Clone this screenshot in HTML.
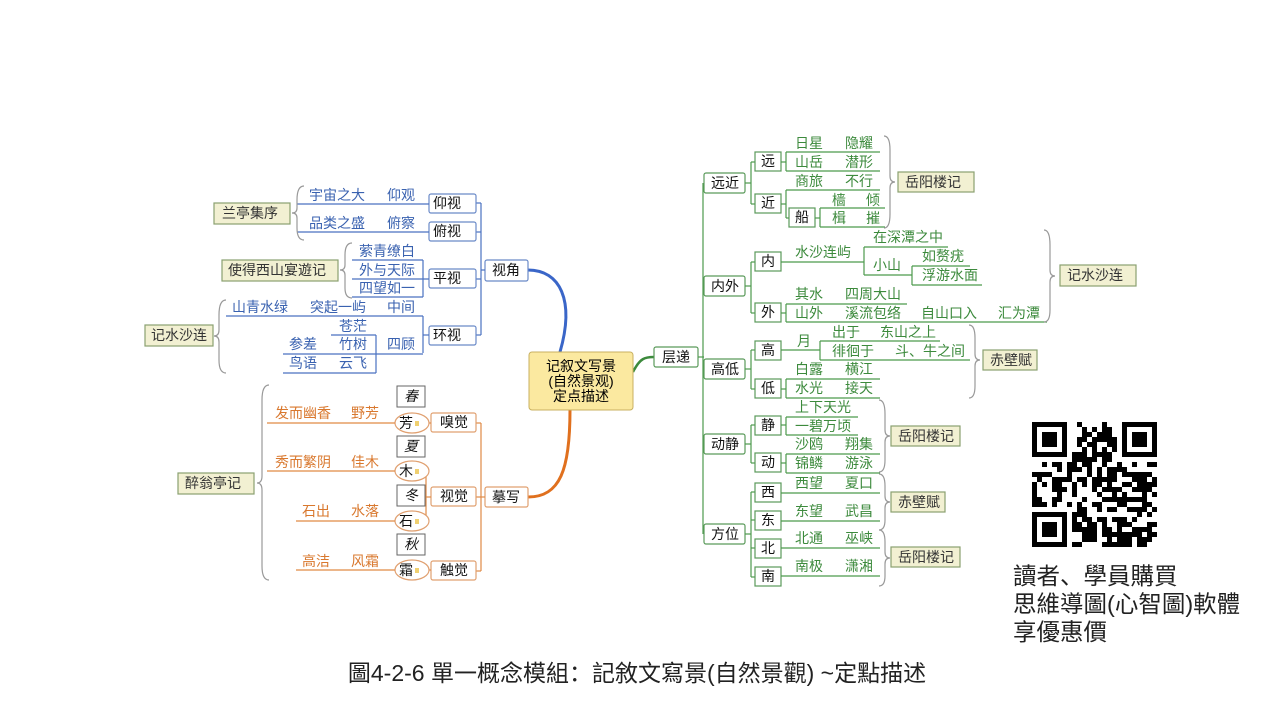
<!DOCTYPE html>
<html><head><meta charset="utf-8"><style>
body{margin:0;background:#fff;width:1280px;height:720px;overflow:hidden}
svg{display:block}
text{font-family:"Liberation Sans","Noto Sans CJK SC",sans-serif;font-size:14px}
.b text{fill:#3a62b0}.o text{fill:#d9782e}.g text{fill:#3c8a3c}
.b line,.b path.l{stroke:#4a72c0;stroke-width:1.2;fill:none}
.o line,.o path.l{stroke:#e08a45;stroke-width:1.2;fill:none}
.g line,.g path.l{stroke:#4c9a4c;stroke-width:1.2;fill:none}
rect.n{fill:#fff;stroke-width:1.2}
.b rect.n{stroke:#6a8ac8}.o rect.n{stroke:#e0a070}.g rect.n{stroke:#5a9a5a}
text.k{fill:#111 !important}
rect.r{fill:#f2f0d2;stroke:#8aa070;stroke-width:1.2}
path.br{stroke:#999;fill:none;stroke-width:1.2}
</style></head><body>
<svg width="1280" height="720" viewBox="0 0 1280 720">
<path d="M560 352 C575 300 560 270 528 270" stroke="#3a66c8" stroke-width="3" fill="none"/>
<path d="M570 410 C570 470 560 497 528 497" stroke="#e0701e" stroke-width="3" fill="none"/>
<path d="M633 372 C640 358 645 357 654 357" stroke="#3c8a3c" stroke-width="2.5" fill="none"/>
<rect x="529" y="352" width="104" height="58" rx="3" fill="#fbe9a0" stroke="#c8b060"/>
<text x="581" y="371" text-anchor="middle">记叙文写景</text>
<text x="581" y="386" text-anchor="middle">(自然景观)</text>
<text x="581" y="401" text-anchor="middle">定点描述</text>

<g class="b">
<rect class="n" x="485" y="260" width="43" height="21" rx="2"/><text class="k" x="492" y="275">视角</text>
<line x1="481" y1="203" x2="481" y2="335"/>
<line x1="476" y1="203" x2="481" y2="203"/><line x1="476" y1="232" x2="481" y2="232"/><line x1="476" y1="279" x2="481" y2="279"/><line x1="476" y1="335" x2="481" y2="335"/><line x1="481" y1="270" x2="485" y2="270"/>
<rect class="n" x="429" y="194" width="47" height="19" rx="2"/><text class="k" x="433" y="208">仰视</text>
<rect class="n" x="429" y="222" width="47" height="19" rx="2"/><text class="k" x="433" y="236">俯视</text>
<rect class="n" x="429" y="269" width="47" height="19" rx="2"/><text class="k" x="433" y="283">平视</text>
<rect class="n" x="429" y="326" width="47" height="19" rx="2"/><text class="k" x="433" y="340">环视</text>
<line x1="297" y1="204" x2="429" y2="204"/><text x="309" y="200">宇宙之大</text><text x="387" y="200">仰观</text>
<line x1="297" y1="232" x2="429" y2="232"/><text x="309" y="228">品类之盛</text><text x="387" y="228">俯察</text>
<path class="br" d="M304 186 Q297 186 297 200 L297 208 Q297 213 292 213 Q297 213 297 218 L297 228 Q297 240 304 240"/>
<rect class="r" x="214" y="203" width="76" height="21"/><text x="222" y="218" style="fill:#333">兰亭集序</text>
<line x1="352" y1="260" x2="423" y2="260"/><line x1="352" y1="279" x2="429" y2="279"/><line x1="352" y1="297" x2="423" y2="297"/><line x1="423" y1="260" x2="423" y2="297"/>
<text x="359" y="256">萦青缭白</text><text x="359" y="275">外与天际</text><text x="359" y="293">四望如一</text>
<path class="br" d="M352 243 Q345 243 345 255 L345 265 Q345 270 340 270 Q345 270 345 275 L345 288 Q345 298 352 298"/>
<rect class="r" x="222" y="260" width="116" height="21"/><text x="228" y="275" style="fill:#333">使得西山宴遊记</text>
<line x1="226" y1="316" x2="423" y2="316"/><line x1="423" y1="316" x2="423" y2="353"/><line x1="423" y1="335" x2="429" y2="335"/>
<text x="232" y="312">山青水绿</text><text x="310" y="312">突起一屿</text><text x="387" y="312">中间</text>
<text x="339" y="331">苍茫</text><line x1="331" y1="335" x2="376" y2="335"/><line x1="376" y1="335" x2="376" y2="373"/>
<text x="289" y="349">参差</text><text x="339" y="349">竹树</text><text x="387" y="349">四顾</text>
<line x1="283" y1="354" x2="423" y2="354"/>
<text x="289" y="368">鸟语</text><text x="339" y="368">云飞</text><line x1="283" y1="373" x2="376" y2="373"/>
<path class="br" d="M226 300 Q219 300 219 315 L219 330 Q219 336 214 336 Q219 336 219 342 L219 360 Q219 373 226 373"/>
<rect class="r" x="145" y="325" width="68" height="21"/><text x="151" y="340" style="fill:#333">记水沙连</text>
</g>

<g class="o">
<rect class="n" x="485" y="487" width="43" height="20" rx="2"/><text class="k" x="492" y="502">摹写</text>
<line x1="481" y1="423" x2="481" y2="571"/><line x1="481" y1="497" x2="485" y2="497"/>
<line x1="476" y1="423" x2="481" y2="423"/><line x1="476" y1="497" x2="481" y2="497"/><line x1="476" y1="571" x2="481" y2="571"/>
<rect class="n" x="431" y="413" width="45" height="19" rx="2"/><text class="k" x="440" y="427">嗅觉</text>
<rect class="n" x="431" y="487" width="45" height="19" rx="2"/><text class="k" x="440" y="501">视觉</text>
<rect class="n" x="431" y="561" width="45" height="19" rx="2"/><text class="k" x="440" y="575">触觉</text>
<line x1="429" y1="423" x2="431" y2="423"/><line x1="426" y1="497" x2="431" y2="497"/><line x1="426" y1="471" x2="426" y2="521"/><line x1="429" y1="570" x2="431" y2="570"/>
<g fill="#fff" stroke="#e0a070" stroke-width="1.2">
<ellipse cx="412" cy="423" rx="17" ry="10"/><ellipse cx="412" cy="471" rx="17" ry="10"/><ellipse cx="412" cy="521" rx="17" ry="10"/><ellipse cx="412" cy="570" rx="17" ry="10"/>
</g>
<text class="k" x="399" y="428">芳</text><text class="k" x="399" y="476">木</text><text class="k" x="399" y="526">石</text><text class="k" x="399" y="575">霜</text>
<g fill="#f0d070"><rect x="415" y="421" width="4" height="5"/><rect x="415" y="469" width="4" height="5"/><rect x="415" y="519" width="4" height="5"/><rect x="415" y="568" width="4" height="5"/></g>
<g fill="#fff" stroke="#666" stroke-width="1">
<rect x="397" y="386" width="28" height="21"/><rect x="397" y="436" width="28" height="21"/><rect x="397" y="485" width="28" height="21"/><rect x="397" y="534" width="28" height="21"/>
</g>
<g style="font-style:italic"><text class="k" x="404" y="401">春</text><text class="k" x="404" y="451">夏</text><text class="k" x="404" y="500">冬</text><text class="k" x="404" y="549">秋</text></g>
<line x1="267" y1="423" x2="395" y2="423"/><text x="275" y="418">发而幽香</text><text x="351" y="418">野芳</text>
<line x1="267" y1="471" x2="395" y2="471"/><text x="275" y="467">秀而繁阴</text><text x="351" y="467">佳木</text>
<line x1="296" y1="521" x2="395" y2="521"/><text x="302" y="516">石出</text><text x="351" y="516">水落</text>
<line x1="296" y1="570" x2="395" y2="570"/><text x="302" y="566">高洁</text><text x="351" y="566">风霜</text>
<path class="br" d="M269 385 Q262 385 262 400 L262 476 Q262 483 257 483 Q262 483 262 490 L262 566 Q262 580 269 580"/>
<rect class="r" x="178" y="473" width="76" height="21"/><text x="185" y="488" style="fill:#333">醉翁亭记</text>
</g>

<g class="g">
<rect class="n" x="654" y="347" width="44" height="20" rx="2"/><text class="k" x="662" y="362">层递</text>
<line x1="703" y1="183" x2="703" y2="534"/><line x1="698" y1="357" x2="704" y2="357"/>
<rect class="n" x="704" y="173" width="41" height="20" rx="2"/><text class="k" x="711" y="188">远近</text>
<rect class="n" x="704" y="276" width="41" height="20" rx="2"/><text class="k" x="711" y="291">内外</text>
<rect class="n" x="704" y="359" width="41" height="20" rx="2"/><text class="k" x="711" y="374">高低</text>
<rect class="n" x="704" y="434" width="41" height="20" rx="2"/><text class="k" x="711" y="449">动静</text>
<rect class="n" x="704" y="524" width="41" height="20" rx="2"/><text class="k" x="711" y="539">方位</text>
<line x1="751" y1="162" x2="751" y2="204"/><line x1="745" y1="183" x2="751" y2="183"/>
<line x1="751" y1="262" x2="751" y2="313"/><line x1="745" y1="286" x2="751" y2="286"/>
<line x1="751" y1="350" x2="751" y2="389"/><line x1="745" y1="369" x2="751" y2="369"/>
<line x1="751" y1="425" x2="751" y2="463"/><line x1="745" y1="444" x2="751" y2="444"/>
<line x1="751" y1="492" x2="751" y2="577"/><line x1="745" y1="534" x2="751" y2="534"/>
<g>
<line x1="751" y1="162" x2="755" y2="162"/><line x1="751" y1="204" x2="755" y2="204"/><line x1="751" y1="262" x2="755" y2="262"/><line x1="751" y1="313" x2="755" y2="313"/>
<line x1="751" y1="350" x2="755" y2="350"/><line x1="751" y1="389" x2="755" y2="389"/><line x1="751" y1="425" x2="755" y2="425"/><line x1="751" y1="463" x2="755" y2="463"/>
<line x1="751" y1="492" x2="755" y2="492"/><line x1="751" y1="520" x2="755" y2="520"/><line x1="751" y1="548" x2="755" y2="548"/><line x1="751" y1="577" x2="755" y2="577"/>
</g>
<rect class="n" x="755" y="152" width="26" height="19"/><text class="k" x="761" y="166">远</text>
<rect class="n" x="755" y="194" width="26" height="19"/><text class="k" x="761" y="208">近</text>
<rect class="n" x="755" y="252" width="26" height="19"/><text class="k" x="761" y="266">内</text>
<rect class="n" x="755" y="303" width="26" height="19"/><text class="k" x="761" y="317">外</text>
<rect class="n" x="755" y="341" width="26" height="19"/><text class="k" x="761" y="355">高</text>
<rect class="n" x="755" y="379" width="26" height="19"/><text class="k" x="761" y="393">低</text>
<rect class="n" x="755" y="416" width="26" height="19"/><text class="k" x="761" y="430">静</text>
<rect class="n" x="755" y="453" width="26" height="19"/><text class="k" x="761" y="467">动</text>
<rect class="n" x="755" y="483" width="26" height="19"/><text class="k" x="761" y="497">西</text>
<rect class="n" x="755" y="511" width="26" height="19"/><text class="k" x="761" y="525">东</text>
<rect class="n" x="755" y="539" width="26" height="19"/><text class="k" x="761" y="553">北</text>
<rect class="n" x="755" y="567" width="26" height="19"/><text class="k" x="761" y="581">南</text>
<line x1="786" y1="152" x2="880" y2="152"/><line x1="786" y1="171" x2="880" y2="171"/><line x1="786" y1="152" x2="786" y2="171"/><line x1="781" y1="162" x2="786" y2="162"/>
<text x="795" y="148">日星</text><text x="845" y="148">隐耀</text><text x="795" y="167">山岳</text><text x="845" y="167">潜形</text>
<line x1="786" y1="190" x2="880" y2="190"/><line x1="786" y1="190" x2="786" y2="218"/><line x1="781" y1="204" x2="786" y2="204"/><line x1="786" y1="218" x2="789" y2="218"/>
<text x="795" y="186">商旅</text><text x="845" y="186">不行</text>
<rect class="n" x="789" y="208" width="26" height="19"/><text class="k" x="795" y="222">船</text>
<line x1="820" y1="208" x2="885" y2="208"/><line x1="820" y1="227" x2="885" y2="227"/><line x1="820" y1="208" x2="820" y2="227"/><line x1="815" y1="218" x2="820" y2="218"/>
<text x="832" y="205">樯</text><text x="866" y="205">倾</text><text x="832" y="223">楫</text><text x="866" y="223">摧</text>
<path class="br" d="M884 136 Q890 136 890 150 L890 176 Q890 182 895 182 Q890 182 890 188 L890 214 Q890 228 884 228"/>
<rect class="r" x="898" y="172" width="76" height="20"/><text x="905" y="187" style="fill:#333">岳阳楼记</text>
<line x1="781" y1="262" x2="864" y2="262"/><text x="795" y="257">水沙连屿</text>
<line x1="864" y1="247" x2="864" y2="275"/><line x1="864" y1="247" x2="948" y2="247"/><line x1="864" y1="275" x2="912" y2="275"/>
<text x="873" y="242">在深潭之中</text><text x="873" y="270">小山</text>
<line x1="912" y1="266" x2="912" y2="285"/><line x1="912" y1="266" x2="970" y2="266"/><line x1="912" y1="285" x2="982" y2="285"/>
<text x="922" y="261">如赘疣</text><text x="922" y="280">浮游水面</text>
<line x1="786" y1="304" x2="907" y2="304"/><line x1="786" y1="322" x2="1047" y2="322"/><line x1="786" y1="304" x2="786" y2="322"/><line x1="781" y1="313" x2="786" y2="313"/>
<text x="795" y="299">其水</text><text x="845" y="299">四周大山</text>
<text x="795" y="318">山外</text><text x="845" y="318">溪流包络</text><text x="921" y="318">自山口入</text><text x="998" y="318">汇为潭</text>
<path class="br" d="M1044 230 Q1050 230 1050 245 L1050 270 Q1050 276 1055 276 Q1050 276 1050 282 L1050 310 Q1050 322 1044 322"/>
<rect class="r" x="1060" y="265" width="76" height="21"/><text x="1067" y="280" style="fill:#333">记水沙连</text>
<line x1="781" y1="350" x2="820" y2="350"/><text x="797" y="346">月</text>
<line x1="820" y1="341" x2="820" y2="360"/><line x1="820" y1="341" x2="940" y2="341"/><line x1="820" y1="360" x2="970" y2="360"/>
<text x="832" y="337">出于</text><text x="880" y="337">东山之上</text><text x="832" y="356">徘徊于</text><text x="895" y="356">斗、牛之间</text>
<line x1="786" y1="379" x2="880" y2="379"/><line x1="786" y1="398" x2="880" y2="398"/><line x1="786" y1="379" x2="786" y2="398"/><line x1="781" y1="389" x2="786" y2="389"/>
<text x="795" y="374">白露</text><text x="845" y="374">横江</text><text x="795" y="393">水光</text><text x="845" y="393">接天</text>
<path class="br" d="M969 325 Q975 325 975 338 L975 354 Q975 360 980 360 Q975 360 975 366 L975 386 Q975 398 969 398"/>
<rect class="r" x="983" y="350" width="54" height="20"/><text x="990" y="365" style="fill:#333">赤壁赋</text>
<line x1="786" y1="417" x2="858" y2="417"/><line x1="786" y1="435" x2="858" y2="435"/><line x1="786" y1="417" x2="786" y2="435"/><line x1="781" y1="425" x2="786" y2="425"/>
<text x="795" y="412">上下天光</text><text x="795" y="431">一碧万顷</text>
<line x1="786" y1="454" x2="880" y2="454"/><line x1="786" y1="473" x2="880" y2="473"/><line x1="786" y1="454" x2="786" y2="473"/><line x1="781" y1="463" x2="786" y2="463"/>
<text x="795" y="449">沙鸥</text><text x="845" y="449">翔集</text><text x="795" y="468">锦鳞</text><text x="845" y="468">游泳</text>
<path class="br" d="M879 400 Q885 400 885 414 L885 430 Q885 436 890 436 Q885 436 885 442 L885 460 Q885 472 879 472"/>
<rect class="r" x="891" y="426" width="69" height="20"/><text x="898" y="441" style="fill:#333">岳阳楼记</text>
<line x1="781" y1="493" x2="880" y2="493"/><text x="795" y="488">西望</text><text x="845" y="488">夏口</text>
<line x1="781" y1="521" x2="880" y2="521"/><text x="795" y="516">东望</text><text x="845" y="516">武昌</text>
<line x1="781" y1="548" x2="880" y2="548"/><text x="795" y="543">北通</text><text x="845" y="543">巫峡</text>
<line x1="781" y1="576" x2="880" y2="576"/><text x="795" y="571">南极</text><text x="845" y="571">潇湘</text>
<path class="br" d="M879 474 Q885 474 885 486 L885 496 Q885 502 890 502 Q885 502 885 508 L885 520 Q885 530 879 530"/>
<rect class="r" x="891" y="492" width="54" height="20"/><text x="898" y="507" style="fill:#333">赤壁赋</text>
<path class="br" d="M879 530 Q885 530 885 542 L885 552 Q885 558 890 558 Q885 558 885 564 L885 576 Q885 586 879 586"/>
<rect class="r" x="891" y="547" width="69" height="20"/><text x="898" y="562" style="fill:#333">岳阳楼记</text>
</g>

<g id="qr" fill="#000">
<rect x="1032" y="422" width="35" height="35"/><rect x="1037" y="427" width="25" height="25" fill="#fff"/><rect x="1042" y="432" width="15" height="15"/>
<rect x="1122" y="422" width="35" height="35"/><rect x="1127" y="427" width="25" height="25" fill="#fff"/><rect x="1132" y="432" width="15" height="15"/>
<rect x="1032" y="512" width="35" height="35"/><rect x="1037" y="517" width="25" height="25" fill="#fff"/><rect x="1042" y="522" width="15" height="15"/>
</g>
<text x="1013" y="584" style="font-size:23.5px;fill:#222">讀者、學員購買</text>
<text x="1013" y="612" style="font-size:23.5px;fill:#222">思維導圖(心智圖)軟體</text>
<text x="1013" y="640" style="font-size:23.5px;fill:#222">享優惠價</text>
<text x="637" y="681" text-anchor="middle" style="font-size:23px;fill:#222">圖4-2-6 單一概念模組：記敘文寫景(自然景觀) ~定點描述</text>
</svg>
<script>
(function(){var g=document.getElementById('qr'),s=12345,ns='http://www.w3.org/2000/svg';
function r(){s=(s*1103515245+12345)&0x7fffffff;return s/0x7fffffff;}
for(var y=0;y<25;y++)for(var x=0;x<25;x++){
if((x<8&&y<8)||(x>16&&y<8)||(x<8&&y>16))continue;
if(r()<0.55){var e=document.createElementNS(ns,'rect');e.setAttribute('x',1032+x*5);e.setAttribute('y',422+y*5);e.setAttribute('width',5);e.setAttribute('height',5);g.appendChild(e);}}
})();
</script>
</body></html>
